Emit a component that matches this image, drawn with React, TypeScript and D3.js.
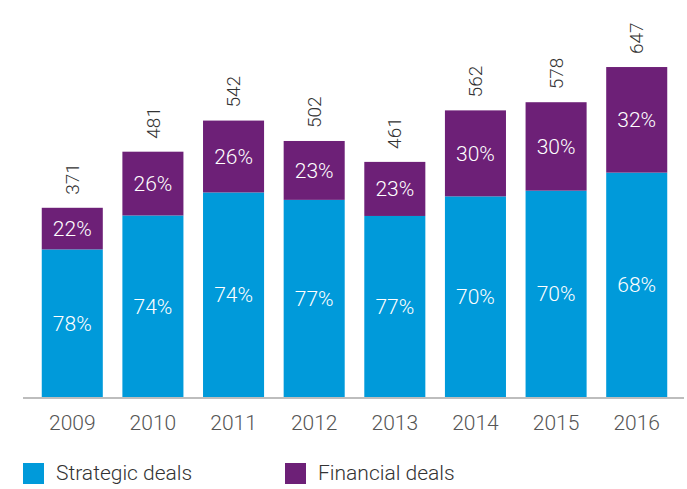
import { useEffect, useRef } from "react";
import * as d3 from "d3";

const years = ["2009", "2010", "2011", "2012", "2013", "2014", "2015", "2016"];
const totals = [371, 481, 542, 502, 461, 562, 578, 647];
const strategicPct = [78, 74, 74, 77, 77, 70, 70, 68];
const financialPct = [22, 26, 26, 23, 23, 30, 30, 32];

const BLUE = "#009ADA";
const PURPLE = "#6D2077";
const FONT = "Roboto, 'Liberation Sans', sans-serif";

const App = () => {
  const svgRef = useRef<SVGSVGElement | null>(null);

  useEffect(() => {
    const width = 687;
    const height = 489;
    const svg = d3.select(svgRef.current).attr("width", width).attr("height", height);
    svg.selectAll("*").remove();

    const x = d3.scaleBand().domain(years).range([32, 677]).paddingInner(0.243).paddingOuter(0.121);
    const y = d3.scaleLinear().domain([0, 700]).range([397, 40]);

    const data = years.map((yr, i) => ({
      year: yr,
      total: totals[i],
      s: strategicPct[i],
      f: financialPct[i],
      split: (totals[i] * strategicPct[i]) / 100,
    }));

    const g = svg.append("g");

    // strategic
    g.selectAll(".strat")
      .data(data)
      .enter()
      .append("rect")
      .attr("x", (d) => x(d.year)!)
      .attr("width", x.bandwidth())
      .attr("y", (d) => y(d.split))
      .attr("height", (d) => y(0) - y(d.split))
      .attr("fill", BLUE);

    // financial
    g.selectAll(".fin")
      .data(data)
      .enter()
      .append("rect")
      .attr("x", (d) => x(d.year)!)
      .attr("width", x.bandwidth())
      .attr("y", (d) => y(d.total))
      .attr("height", (d) => y(d.split) - y(d.total))
      .attr("fill", PURPLE);

    // percentage labels
    g.selectAll(".sl")
      .data(data)
      .enter()
      .append("text")
      .attr("x", (d) => x(d.year)! + x.bandwidth() / 2)
      .attr("y", (d) => (y(0) + y(d.split)) / 2)
      .attr("dy", "0.35em")
      .attr("text-anchor", "middle")
      .attr("fill", "#fff")
      .style("font-family", FONT)
      .style("font-weight", 300)
      .style("font-size", "21px")
      .text((d) => d.s + "%");

    g.selectAll(".fl")
      .data(data)
      .enter()
      .append("text")
      .attr("x", (d) => x(d.year)! + x.bandwidth() / 2)
      .attr("y", (d) => (y(d.split) + y(d.total)) / 2)
      .attr("dy", "0.35em")
      .attr("text-anchor", "middle")
      .attr("fill", "#fff")
      .style("font-family", FONT)
      .style("font-weight", 300)
      .style("font-size", "21px")
      .text((d) => d.f + "%");

    // totals, rotated
    g.selectAll(".tl")
      .data(data)
      .enter()
      .append("text")
      .attr("transform", (d) => `translate(${x(d.year)! + x.bandwidth() / 2},${y(d.total) - 13}) rotate(-90)`)
      .attr("dy", "0.35em")
      .attr("text-anchor", "start")
      .attr("fill", "#333")
      .style("font-family", FONT)
      .style("font-weight", 300)
      .style("font-size", "19px")
      .text((d) => d.total);

    // baseline
    svg.append("line")
      .attr("x1", 23)
      .attr("x2", 684)
      .attr("y1", 398)
      .attr("y2", 398)
      .attr("stroke", "#bdbdbd")
      .attr("stroke-width", 2);

    // x labels
    const xAxis = svg.append("g").attr("transform", "translate(0,398)")
      .call(d3.axisBottom(x).tickSize(0).tickPadding(17));
    xAxis.select(".domain").remove();
    xAxis.selectAll("text")
      .attr("fill", "#555")
      .style("font-family", FONT)
      .style("font-weight", 300)
      .style("font-size", "21px");

    // legend
    const legend = [
      { label: "Strategic deals", color: BLUE, x: 23 },
      { label: "Financial deals", color: PURPLE, x: 285 },
    ];
    const lg = svg.selectAll(".lg").data(legend).enter().append("g")
      .attr("transform", (d) => `translate(${d.x},463)`);
    lg.append("rect").attr("width", 21).attr("height", 21).attr("fill", (d) => d.color);
    lg.append("text")
      .attr("x", 33)
      .attr("y", 10)
      .attr("dy", "0.35em")
      .attr("fill", "#333")
      .style("font-family", FONT)
      .style("font-weight", 300)
      .style("font-size", "21px")
      .text((d) => d.label);
  }, []);

  return <svg ref={svgRef} style={{ position: "absolute", left: 0, top: 0 }}></svg>;
};

export default App;
